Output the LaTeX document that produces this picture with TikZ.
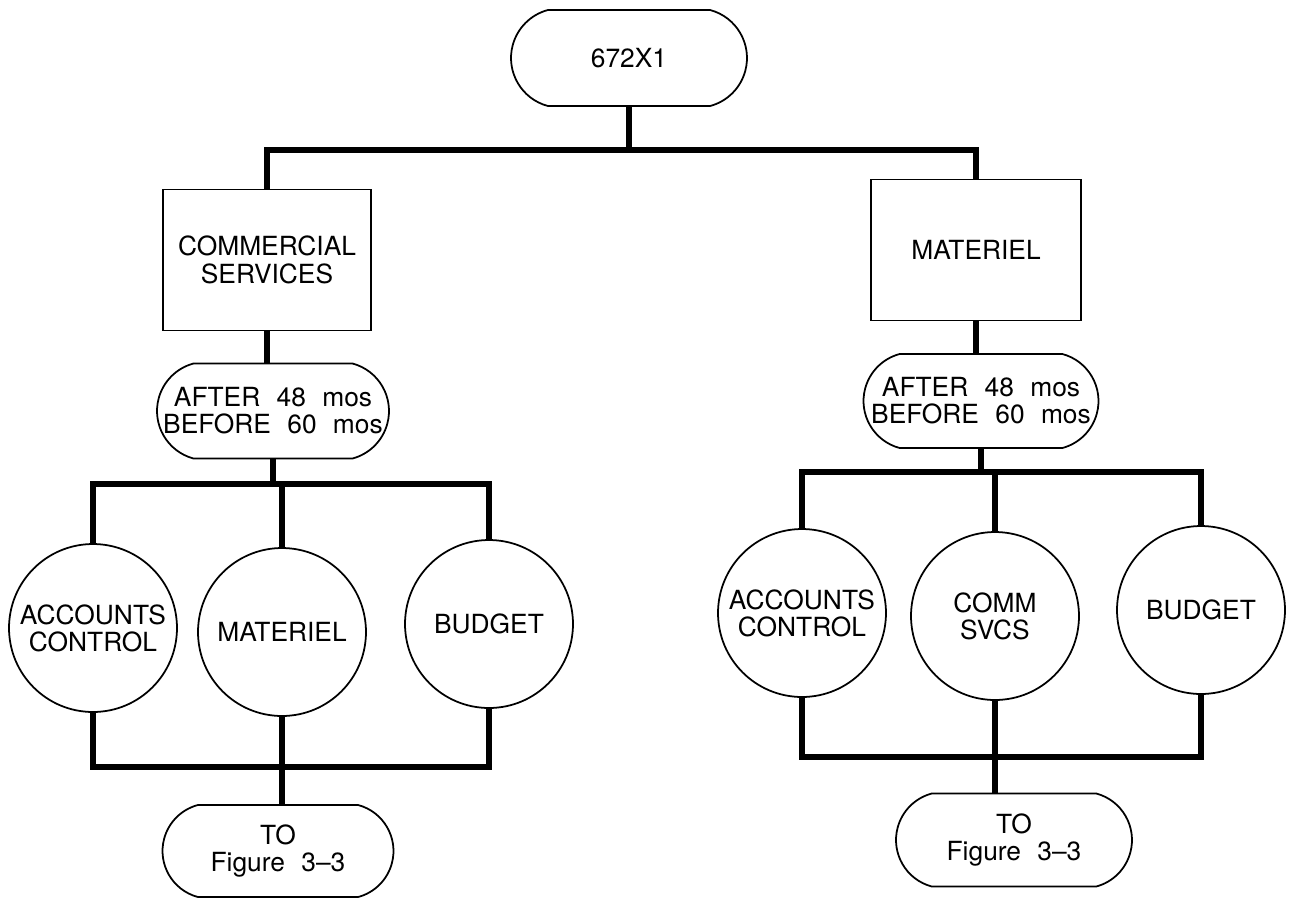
\documentclass[tikz,border=0pt]{standalone}
\usepackage{fontspec}
\setmainfont{TeX Gyre Heros}
\usetikzlibrary{shapes.misc}
\newcommand\widespace{\spaceskip=0.62em\relax}

\begin{document}
\begin{tikzpicture}[x=0.02cm, y=-0.02cm,
  every node/.style={font=\fontsize{15}{15.5}\selectfont\widespace, align=center, line width=1pt},
  pill/.style={draw, rounded rectangle, rounded rectangle arc length=150, minimum width=4.7cm, minimum height=1.88cm, inner sep=0pt},
  unit/.style={draw, rectangle, minimum width=4.2cm, minimum height=2.82cm},
  office/.style={draw, circle, minimum size=3.36cm, inner sep=0pt},
  link/.style={line width=3.4pt}]

\useasboundingbox (0,0) rectangle (1289,897);

% Top node
\node[pill, minimum width=4.72cm, minimum height=1.92cm] (root) at (629,58) {672X1};

% Units
\node[unit, minimum width=4.16cm] (comm) at (267,260) {COMMERCIAL\\SERVICES};
\node[unit] (mat) at (976,250) {MATERIEL};

% Time windows
\node[pill, minimum width=4.64cm, minimum height=1.9cm] (lwin) at (273,411) {AFTER 48 mos\\BEFORE 60 mos};
\node[pill] (rwin) at (981,401) {AFTER 48 mos\\BEFORE 60 mos};

% Offices - left
\node[office] (lacc) at (93,628) {ACCOUNTS\\CONTROL};
\node[office] (lmat) at (282,632) {MATERIEL};
\node[office] (lbud) at (489,624) {BUDGET};

% Offices - right
\node[office] (racc) at (802,613) {ACCOUNTS\\CONTROL};
\node[office] (rcomm) at (995,616) {COMM\\SVCS};
\node[office] (rbud) at (1201,610) {BUDGET};

% Exits
\node[pill, minimum width=4.62cm, minimum height=1.84cm] (lto) at (278,851) {TO\\Figure 3--3};
\node[pill, minimum width=4.72cm, minimum height=1.86cm] (rto) at (1014,840) {TO\\Figure 3--3};

% Bus levels
\coordinate (topbus) at (0,150);
\coordinate (lup) at (0,484);
\coordinate (llow) at (0,767);
\coordinate (rup) at (0,472);
\coordinate (rlow) at (0,757);

% Links - top
\draw[link] (root.south) -- (root.south |- topbus);
\draw[link] (comm.north) |- (mat.north |- topbus) -- (mat.north);

% Links - left
\draw[link] (comm.south) -- (comm.south |- lwin.north);
\draw[link] (lwin.south) -- (lwin.south |- lup);
\draw[link] (lacc.north) |- (lbud.north |- lup) -- (lbud.north);
\draw[link] (lmat.north) -- (lmat.north |- lup);
\draw[link] (lacc.south) |- (lbud.south |- llow) -- (lbud.south);
\draw[link] (lmat.south) -- (lmat.south |- lto.north);

% Links - right
\draw[link] (mat.south) -- (mat.south |- rwin.north);
\draw[link] (rwin.south) -- (rwin.south |- rup);
\draw[link] (racc.north) |- (rbud.north |- rup) -- (rbud.north);
\draw[link] (rcomm.north) -- (rcomm.north |- rup);
\draw[link] (racc.south) |- (rbud.south |- rlow) -- (rbud.south);
\draw[link] (rcomm.south) -- (rcomm.south |- rto.north);

\end{tikzpicture}
\end{document}
